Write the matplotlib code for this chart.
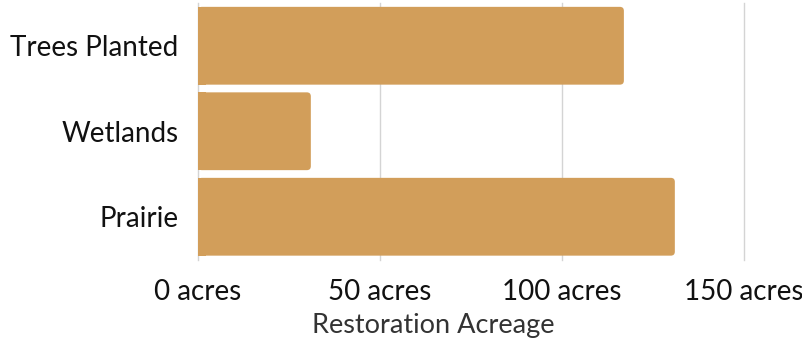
import matplotlib.pyplot as plt
from matplotlib.patches import FancyBboxPatch, Rectangle

categories = ['Trees Planted', 'Wetlands', 'Prairie']
acres = [117, 31, 131]
ticks = [0, 50, 100, 150]
tick_labels = [f'{t} acres' for t in ticks]

bar_color = '#D29E5A'
plt.rcParams['font.family'] = ['Lato', 'DejaVu Sans']

fig = plt.figure(figsize=(8.03, 3.41), dpi=100)
ax = fig.add_axes([198 / 803, 1 - 259.5 / 341, 546 / 803, 256.5 / 341])

ax.set_xlim(0, 150)
ax.set_ylim(2.5, -0.5)

x_per_px = 150 / 546
y_per_px = 3 / 256.5
radius = 4 * x_per_px

# draw bars from data, then give them a rounded right end
bars = ax.barh(range(len(categories)), acres, height=0.91, color=bar_color)
for b in bars:
    x0, y0 = b.get_x(), b.get_y()
    w, h = b.get_width(), b.get_height()
    b.set_visible(False)
    rounded = FancyBboxPatch((x0, y0), w, h,
                             boxstyle=f'round,pad=0,rounding_size={radius}',
                             mutation_aspect=y_per_px / x_per_px,
                             facecolor=bar_color, edgecolor='none', zorder=3)
    ax.add_patch(rounded)
    ax.add_patch(Rectangle((x0, y0 + h * 0.1), w / 2, h * 0.8,
                           facecolor=bar_color, edgecolor='none',
                           antialiased=False, zorder=3))
    ax.add_patch(Rectangle((x0, y0), 2 * radius, h, facecolor=bar_color,
                           edgecolor='none', zorder=3))

ax.set_xticks(ticks)
ax.set_xticklabels(tick_labels, fontsize=20, color='#111111')
ax.set_yticks(range(len(categories)))
ax.set_yticklabels(categories, fontsize=20, color='#111111')
ax.tick_params(axis='both', length=0)
ax.tick_params(axis='x', pad=14)
ax.tick_params(axis='y', pad=14)

ax.grid(axis='x', color='#d4d4d4', linewidth=1, zorder=0)
for gl in ax.get_xgridlines():
    gl.set_clip_on(False)
ax.set_axisbelow(True)
for s in ax.spines.values():
    s.set_visible(False)

fig.text(433 / 803, 1 - 325 / 341, 'Restoration Acreage', ha='center',
         va='center', fontsize=19.5, color='#333333')

fig.savefig('out.png', dpi=100)
